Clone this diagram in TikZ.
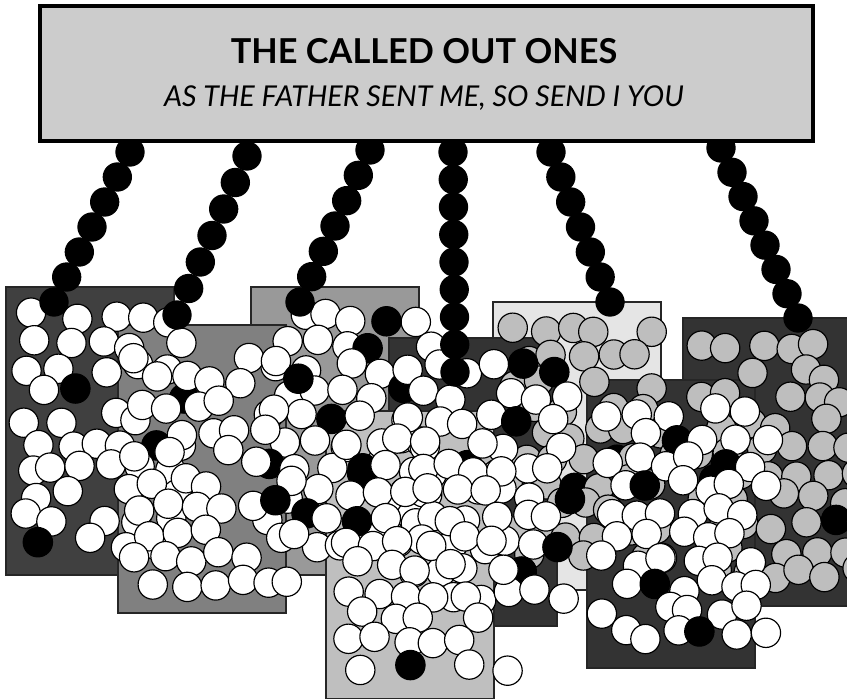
\documentclass[tikz,border=0pt]{standalone}
\usepackage{fontspec}
\setmainfont{Lato}
\usepackage{tikz}
\usetikzlibrary{calc}
\definecolor{bannergray}{HTML}{CCCCCC}
\definecolor{ballgray}{HTML}{BEBEBE}
\tikzset{
  banner/.style={draw, line width=3.4pt, fill=bannergray},
  crate/.style={draw=black!85, line width=1.1pt},
  ball/.style={draw=black, line width=1pt},
  bead/.style={fill=black},
}

\begin{document}
\begin{tikzpicture}[x=0.03cm, y=-0.03cm]
\useasboundingbox (0,0) rectangle (847,698);
\pgfmathsetseed{31}

% crates, back to front
\foreach \x/\y/\tone in {6/287/black!75, 251/287/black!40, 118/325/black!50,
                         493/302/black!10, 683/318/black!80, 389/338/black!80,
                         326/411/black!25, 587/380/black!80} {
    \draw[crate, fill=\tone] (\x,\y) rectangle ++(168,288);
}

% the piles of called ones
\foreach \x/\y/\fc in {6/287/white, 251/287/white, 118/325/white,
                       493/302/ballgray, 683/318/ballgray, 389/338/white,
                       326/411/white, 587/380/white} {
  \foreach \r in {0,...,9} {
    \foreach \c in {0,...,5} {
      \pgfmathsetmacro\bx{\x+21+\c*28+mod(\r,2)*14+7*rand}
      \pgfmathsetmacro\by{\y+31+\r*25+6*rand}
      \pgfmathtruncatemacro\kind{rnd<0.15 ? 0 : (rnd<0.09 ? 2 : 1)}
      \ifcase\kind
      \or \draw[ball, fill=\fc] (\bx,\by) circle[radius=0.44cm];
      \or \draw[ball, fill=black] (\bx,\by) circle[radius=0.44cm];
      \fi
    }
  }
}

% chains hanging from the banner
\foreach \k/\hx/\hy/\ex/\ey/\n in {1/130/152/54/302/6, 2/247/156/177/315/6,
                                   3/370/150/300/302/6, 4/453/152/455/372/8,
                                   5/551/152/610/302/6, 6/721/148/798/318/7} {
    \coordinate (hook\k) at (\hx,\hy);
    \coordinate (end\k) at (\ex,\ey);
    \foreach \t in {0,...,\n}
        \fill[bead] ($(hook\k)!{\t/\n}!(end\k)$) circle[radius=0.44cm];
}

\draw[banner] (40,6) rectangle (813,141);
\node[anchor=base, font=\fontsize{29.3}{31}\selectfont\bfseries] (title)
  at (424,63) {THE CALLED OUT ONES};
\node[anchor=base, font=\fontsize{24.5}{27}\selectfont\itshape] (motto)
  at (424,106) {AS THE FATHER SENT ME, SO SEND I YOU};

\end{tikzpicture}
\end{document}
